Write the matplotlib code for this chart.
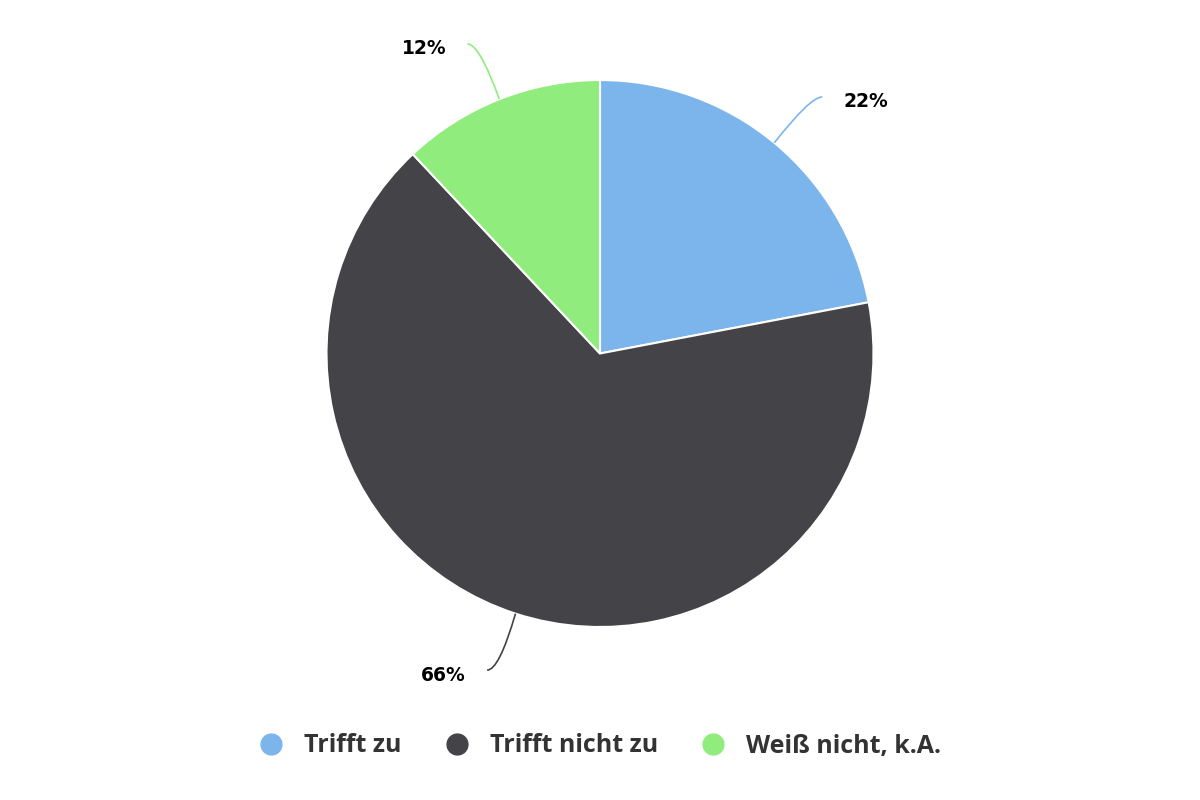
import numpy as np
import matplotlib.pyplot as plt
from matplotlib.path import Path
from matplotlib.patches import PathPatch
from matplotlib.lines import Line2D

categories = ['Trifft zu', 'Trifft nicht zu', 'Weiß nicht, k.A.']
shares = [22, 66, 12]
colors = ['#7cb5ec', '#434348', '#90ed7d']

plt.rcParams['font.family'] = ['Open Sans', 'DejaVu Sans']

fig = plt.figure(figsize=(12, 8), dpi=100)
ax = fig.add_axes([0, 0, 1, 1])

cx, cy, r = 600, 446.5, 273.5
wedges, _ = ax.pie(shares, colors=colors, startangle=90, counterclock=False,
                   center=(cx, cy), radius=r, frame=True,
                   wedgeprops=dict(edgecolor='white', linewidth=1.5))
ax.set_xlim(0, 1200)
ax.set_ylim(0, 800)
ax.set_aspect('equal')
ax.axis('off')

# data labels with curved connectors
dist = 333
for w, val, col in zip(wedges, shares, colors):
    ang = np.deg2rad((w.theta1 + w.theta2) / 2)
    sx, sy = cx + r * np.cos(ang), cy + r * np.sin(ang)
    ey = cy + dist * np.sin(ang)
    side = 1 if np.cos(ang) >= 0 else -1
    ex = cx + side * (np.sqrt(max(dist ** 2 - (ey - cy) ** 2, 0)) + 10)
    verts = [(sx, sy), (ex - side * 12, ey), (ex, ey)]
    path = Path(verts, [Path.MOVETO, Path.CURVE3, Path.CURVE3])
    ax.add_patch(PathPatch(path, fill=False, edgecolor=col, linewidth=1.2))
    ax.text(ex + side * 21, ey - 5, f'{val}%', ha='left' if side > 0 else 'right',
            va='center', fontsize=13.5, fontweight='bold', color='black',
            family='DejaVu Sans')

handles = [Line2D([], [], marker='o', linestyle='none', markersize=15,
                  markerfacecolor=c, markeredgecolor=c) for c in colors]
fig.legend(handles, categories, loc='center', bbox_to_anchor=(0.5, 1 - 746 / 800),
           ncol=3, frameon=False, handlelength=1.0, handletextpad=0.82,
           columnspacing=1.7, labelcolor='#333333',
           prop=dict(weight='bold', size=18))

fig.savefig('out.png', dpi=100)
